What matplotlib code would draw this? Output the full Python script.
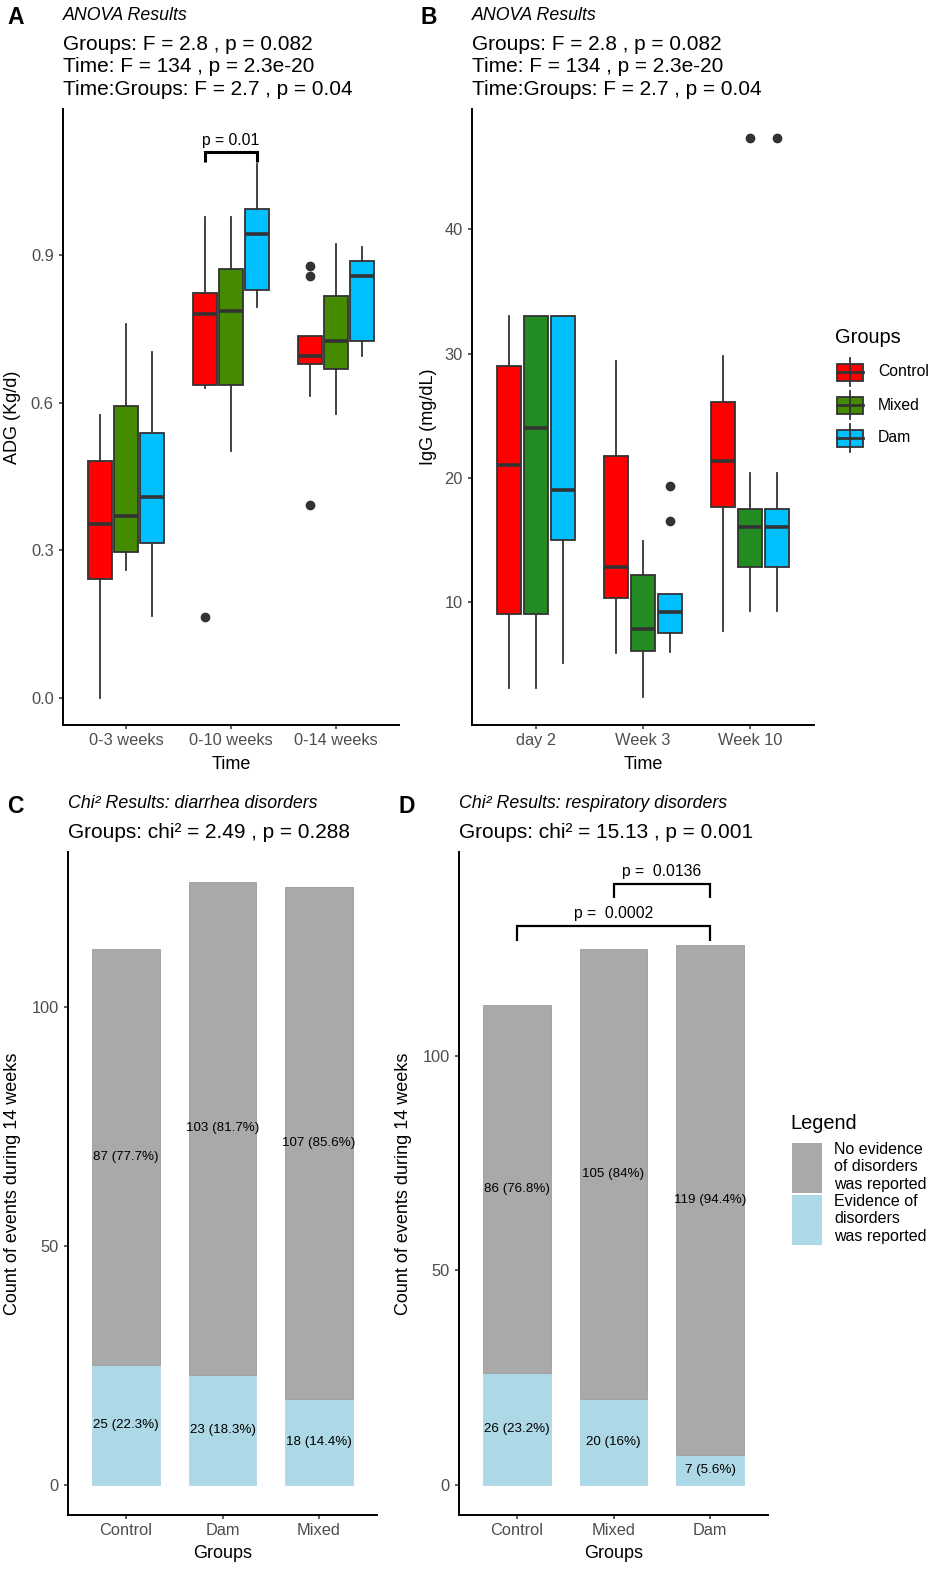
import numpy as np
import matplotlib
matplotlib.use("Agg")
import matplotlib.pyplot as plt
from matplotlib.patches import Rectangle
from matplotlib.lines import Line2D

plt.rcParams['font.family'] = ['Liberation Sans', 'DejaVu Sans']

W, H = 935, 1569

# ---- data -------------------------------------------------------------
groups = ['Control', 'Mixed', 'Dam']
colors_a = ['#FF0000', '#458B00', '#00BFFF']
colors_b = ['#FF0000', '#228B22', '#00BFFF']

# panel A: ADG, arrays are [time][group]
adg_times = ['0-3 weeks', '0-10 weeks', '0-14 weeks']
adg_whislo = [[0.0, 0.259, 0.167], [0.629, 0.501, 0.794], [0.613, 0.577, 0.695]]
adg_q1 = [[0.241, 0.296, 0.314], [0.635, 0.635, 0.828], [0.678, 0.668, 0.725]]
adg_med = [[0.353, 0.370, 0.408], [0.780, 0.786, 0.943], [0.694, 0.725, 0.858]]
adg_q3 = [[0.482, 0.594, 0.538], [0.822, 0.871, 0.994], [0.735, 0.816, 0.888]]
adg_whishi = [[0.574, 0.759, 0.702], [0.978, 0.978, 1.085], [0.735, 0.923, 0.917]]
adg_fliers = [[[], [], []], [[0.164], [], []], [[0.878, 0.858, 0.392], [], []]]

# panel B: IgG
igg_times = ['day 2', 'Week 3', 'Week 10']
igg_whislo = [[3.05, 3.05, 5.04], [5.84, 2.36, 5.95], [7.64, 9.22, 9.22]]
igg_q1 = [[9.03, 9.03, 15.0], [10.29, 6.0, 7.5], [17.67, 12.82, 12.82]]
igg_med = [[21.0, 24.0, 19.03], [12.76, 7.80, 9.2], [21.31, 16.0, 16.0]]
igg_q3 = [[29.03, 33.0, 33.0], [21.77, 12.12, 10.61], [26.06, 17.5, 17.5]]
igg_whishi = [[33.0, 33.0, 33.0], [29.36, 14.88, 10.61], [29.76, 20.38, 20.38]]
igg_fliers = [[[], [], []], [[], [], [19.3, 16.48]], [[], [47.4], [47.4]]]

# panel C: diarrhea counts
diar_groups = ['Control', 'Dam', 'Mixed']
diar_yes = [25, 23, 18]
diar_no = [87, 103, 107]

# panel D: respiratory counts
resp_groups = ['Control', 'Mixed', 'Dam']
resp_yes = [26, 20, 7]
resp_no = [86, 105, 119]

anova_lines = ["Groups: F = 2.8 , p = 0.082",
               "Time: F = 134 , p = 2.3e-20",
               "Time:Groups: F = 2.7 , p = 0.04"]

EDGE = '#333333'
TICKC = '#4D4D4D'


def fx(x):
    return x / W


def fy(y):
    return 1 - y / H


def make_ax(fig, left, top, right, bottom):
    ax = fig.add_axes([fx(left), fy(bottom), (right - left) / W, (bottom - top) / H])
    for s in ['top', 'right']:
        ax.spines[s].set_visible(False)
    for s in ['left', 'bottom']:
        ax.spines[s].set_linewidth(1.4)
        ax.spines[s].set_color('black')
    ax.tick_params(axis='both', length=3.2, width=1.1, color=EDGE,
                   labelcolor=TICKC, labelsize=11.8)
    ax.tick_params(axis='x', pad=2.5)
    ax.tick_params(axis='y', pad=3.5)
    return ax


def boxes(ax, times, whislo, q1, med, q3, whishi, fliers, colors):
    for t in range(len(times)):
        for g in range(len(groups)):
            st = dict(med=med[t][g], q1=q1[t][g], q3=q3[t][g],
                      whislo=whislo[t][g], whishi=whishi[t][g],
                      fliers=fliers[t][g])
            ax.bxp([st], positions=[t + (g - 1) * 0.25], widths=0.225,
                   patch_artist=True, showcaps=False, manage_ticks=False,
                   boxprops=dict(facecolor=colors[g], edgecolor=EDGE, linewidth=1.3),
                   medianprops=dict(color=EDGE, linewidth=2.6),
                   whiskerprops=dict(color=EDGE, linewidth=1.3),
                   flierprops=dict(marker='o', markerfacecolor=EDGE,
                                   markeredgecolor=EDGE, markersize=6))
    ax.set_xticks(range(len(times)))
    ax.set_xticklabels(times)
    ax.set_xlim(-0.6, len(times) - 0.4)


def stacked(ax, names, yes, no):
    x = np.arange(len(names))
    ax.bar(x, yes, width=0.7, color='#ADD8E6', edgecolor='#A8D4E2', linewidth=0.5)
    ax.bar(x, no, width=0.7, bottom=yes, color='#A9A9A9', edgecolor='#9C9C9C', linewidth=0.6)
    for i in range(len(names)):
        tot = yes[i] + no[i]
        for val, base in [(yes[i], 0), (no[i], yes[i])]:
            pct = round(100 * val / tot, 1)
            ax.text(x[i], base + val / 2, f"{val} ({pct:g}%)", ha='center',
                    va='center', fontsize=9.6, color='black')
    ax.set_xticks(x)
    ax.set_xticklabels(names)
    ax.set_xlim(-0.6, len(names) - 0.4)
    ax.set_yticks([0, 50, 100])


def bracket(ax, x1, x2, y, drop, label, lw):
    ax.plot([x1, x1, x2, x2], [y - drop, y, y, y - drop], color='black',
            lw=lw, solid_capstyle='butt', solid_joinstyle='miter', clip_on=False)
    ax.text((x1 + x2) / 2, y + drop * 0.35, label, ha='center', va='bottom',
            fontsize=11.3, color='black')


fig = plt.figure(figsize=(W / 100, H / 100), dpi=100)

# ---- panel A ----
axA = make_ax(fig, 63, 109, 399, 725)
boxes(axA, adg_times, adg_whislo, adg_q1, adg_med, adg_q3, adg_whishi, adg_fliers, colors_a)
axA.set_ylim(-0.0555, 1.197)
axA.set_yticks([0.0, 0.3, 0.6, 0.9])
axA.set_yticklabels(['0.0', '0.3', '0.6', '0.9'])
bracket(axA, 1 - 0.25, 1 + 0.25, 1.110, 0.020, 'p = 0.01', 2.2)
axA.set_xlabel('Time', fontsize=13)
axA.set_ylabel('ADG (Kg/d)', fontsize=13)
axA.xaxis.set_label_coords(0.5, -0.050)
axA.yaxis.set_label_coords(-0.126, 0.5)

# ---- panel B ----
axB = make_ax(fig, 472, 109, 814, 725)
boxes(axB, igg_times, igg_whislo, igg_q1, igg_med, igg_q3, igg_whishi, igg_fliers, colors_b)
axB.set_ylim(0.07, 49.7)
axB.set_yticks([10, 20, 30, 40])
axB.set_xlabel('Time', fontsize=13)
axB.set_ylabel('IgG (mg/dL)', fontsize=13)
axB.xaxis.set_label_coords(0.5, -0.050)
axB.yaxis.set_label_coords(-0.102, 0.5)

# ---- panel C ----
axC = make_ax(fig, 68, 852, 377, 1515)
stacked(axC, diar_groups, diar_yes, diar_no)
axC.set_ylim(-6.3, 132.3)
axC.set_xlabel('Groups', fontsize=13)
axC.set_ylabel('Count of events during 14 weeks', fontsize=13)
axC.xaxis.set_label_coords(0.5, -0.046)
axC.yaxis.set_label_coords(-0.152, 0.5)

# ---- panel D ----
axD = make_ax(fig, 459, 852, 768, 1515)
stacked(axD, resp_groups, resp_yes, resp_no)
axD.set_ylim(-7.1, 147.7)
bracket(axD, 1, 2, 140.2, 3.2, 'p =  0.0136', 1.6)
bracket(axD, 0, 2, 130.4, 3.5, 'p =  0.0002', 1.6)
axD.set_xlabel('Groups', fontsize=13)
axD.set_ylabel('Count of events during 14 weeks', fontsize=13)
axD.xaxis.set_label_coords(0.5, -0.046)
axD.yaxis.set_label_coords(-0.152, 0.5)

# ---- headings ----
for letter, lx, tx in [('A', 7, 63), ('B', 420, 472)]:
    fig.text(fx(lx), fy(24), letter, fontsize=16.5, fontweight='bold', va='baseline')
    fig.text(fx(tx), fy(20), 'ANOVA Results', fontsize=12.8, style='italic', va='baseline')
    for i, line in enumerate(anova_lines):
        fig.text(fx(tx), fy(50 + 22.5 * i), line, fontsize=15, va='baseline')

fig.text(fx(7), fy(813), 'C', fontsize=16.5, fontweight='bold', va='baseline')
fig.text(fx(68), fy(808), 'Chi² Results: diarrhea disorders', fontsize=12.8,
         style='italic', va='baseline')
fig.text(fx(68), fy(838), 'Groups: chi² = 2.49 , p = 0.288', fontsize=15, va='baseline')
fig.text(fx(398), fy(813), 'D', fontsize=16.5, fontweight='bold', va='baseline')
fig.text(fx(459), fy(808), 'Chi² Results: respiratory disorders', fontsize=12.8,
         style='italic', va='baseline')
fig.text(fx(459), fy(838), 'Groups: chi² = 15.13 , p = 0.001', fontsize=15, va='baseline')

# ---- Groups legend (box glyphs) ----
fig.text(fx(835), fy(343), 'Groups', fontsize=14.4, va='baseline')
for i, (g, c) in enumerate(zip(groups, colors_a)):
    cy = 372 + 33 * i
    fig.add_artist(Line2D([fx(850), fx(850)], [fy(cy - 14), fy(cy + 14)],
                          color=EDGE, lw=1.3, transform=fig.transFigure))
    fig.add_artist(Rectangle((fx(837), fy(cy + 8.5)), 26 / W, 17 / H, facecolor=c,
                             edgecolor=EDGE, lw=1.3, transform=fig.transFigure))
    fig.add_artist(Line2D([fx(837), fx(863)], [fy(cy), fy(cy)],
                          color=EDGE, lw=2.0, transform=fig.transFigure))
    fig.text(fx(878), fy(cy), g, fontsize=11.3, va='center')

# ---- chi legend ----
fig.text(fx(790), fy(1129), 'Legend', fontsize=14.4, va='baseline')
chi_keys = [('#A9A9A9', 'No evidence\nof disorders\nwas reported', 1143),
            ('#ADD8E6', 'Evidence of\ndisorders\nwas reported', 1195)]
for c, lab, top in chi_keys:
    fig.add_artist(Rectangle((fx(792), fy(top + 50)), 30 / W, 50 / H, facecolor=c,
                             edgecolor='none', transform=fig.transFigure))
    fig.text(fx(834), fy(top - 1), lab, fontsize=11.5, va='top', linespacing=1.2)

fig.savefig('out.png', dpi=100)
